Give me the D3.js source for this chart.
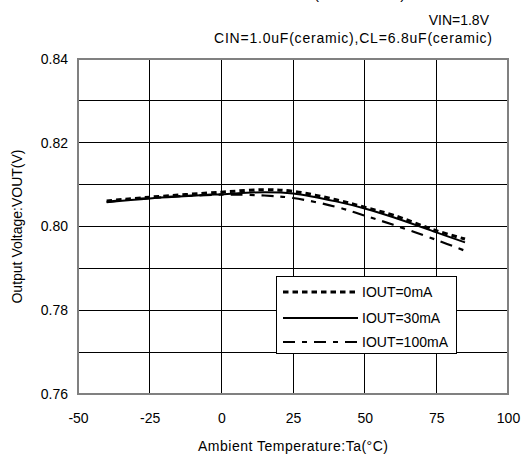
<!DOCTYPE html>
<html>
<head>
<meta charset="utf-8">
<script src="https://cdn.jsdelivr.net/npm/d3@7"></script>
<style>
  body { margin: 0; background: #fff; }
  text { font-family: "Liberation Sans", Arial, sans-serif; fill: #000; }
</style>
</head>
<body>
<div id="container"></div>
<script>
const temps = [-40, -25, 0, 15, 25, 40, 50, 60, 75, 85];
const vout0mA = [0.8061, 0.8070, 0.8082, 0.8088, 0.8084, 0.8064, 0.8046, 0.8027, 0.7990, 0.7970];
const vout30mA = [0.8058, 0.8067, 0.8077, 0.8082, 0.8079, 0.8060, 0.8043, 0.8022, 0.7986, 0.7962];
const vout100mA = [0.8059, 0.8068, 0.8076, 0.8074, 0.8068, 0.8047, 0.8026, 0.8004, 0.7968, 0.7942];
const seriesNames = ["IOUT=0mA", "IOUT=30mA", "IOUT=100mA"];
const xTicks = [-50, -25, 0, 25, 50, 75, 100];
const yGrid = [0.76, 0.77, 0.78, 0.79, 0.80, 0.81, 0.82, 0.83, 0.84];
const yLabels = [0.76, 0.78, 0.80, 0.82, 0.84];

const width = 522, height = 454;
const margin = { top: 59, right: 14, bottom: 60, left: 78 };

const svg = d3.select('#container').append('svg')
  .attr('width', width)
  .attr('height', height);

const x = d3.scaleLinear().domain([-50, 100]).range([margin.left, width - margin.right]);
const y = d3.scaleLinear().domain([0.76, 0.84]).range([height - margin.bottom, margin.top]);

// grid
const grid = svg.append('g');
grid.selectAll('.vg').data(xTicks).enter().append('line')
  .attr('x1', d => x(d)).attr('x2', d => x(d))
  .attr('y1', y(0.76)).attr('y2', y(0.84))
  .attr('stroke', '#000').attr('stroke-width', 1).attr('shape-rendering', 'crispEdges');
grid.selectAll('.hg').data(yGrid).enter().append('line')
  .attr('x1', x(-50)).attr('x2', x(100))
  .attr('y1', d => y(d)).attr('y2', d => y(d))
  .attr('stroke', '#000').attr('stroke-width', 1).attr('shape-rendering', 'crispEdges');
svg.append('rect')
  .attr('x', x(-50)).attr('y', y(0.84))
  .attr('width', x(100) - x(-50)).attr('height', y(0.76) - y(0.84))
  .attr('fill', 'none').attr('stroke', '#808080').attr('stroke-width', 2);

// axes labels
const xAxis = d3.axisBottom(x).tickValues(xTicks).tickSize(0).tickPadding(19).tickFormat(d => String(d));
svg.append('g').attr('transform', `translate(0,${y(0.76)})`).call(xAxis)
  .call(g => g.select('.domain').remove())
  .selectAll('text').attr('font-size', 14).attr('font-family', null);
const yAxis = d3.axisLeft(y).tickValues(yLabels).tickSize(0).tickPadding(10).tickFormat(d3.format('.2f'));
svg.append('g').attr('transform', `translate(${x(-50)},0)`).call(yAxis)
  .call(g => g.select('.domain').remove())
  .selectAll('text').attr('font-size', 14).attr('font-family', null);

svg.append('text')
  .attr('x', (x(-50) + x(100)) / 2).attr('y', 451)
  .attr('text-anchor', 'middle').attr('font-size', 14)
  .attr('textLength', 190).attr('lengthAdjust', 'spacing')
  .text('Ambient Temperature:Ta(°C)');
svg.append('text')
  .attr('transform', `translate(22,${(y(0.76) + y(0.84)) / 2}) rotate(-90)`)
  .attr('text-anchor', 'middle').attr('font-size', 14)
  .text('Output Voltage:VOUT(V)');

// title (cut off at top) and conditions
svg.append('text').attr('x', 314).attr('y', -1).attr('font-size', 15).text('(VOUT=0.8V)');
svg.append('text').attr('x', 489).attr('y', 25).attr('text-anchor', 'end').attr('font-size', 14).text('VIN=1.8V');
svg.append('text').attr('x', 214).attr('y', 43).attr('font-size', 14)
  .attr('textLength', 278).attr('lengthAdjust', 'spacing')
  .text('CIN=1.0uF(ceramic),CL=6.8uF(ceramic)');

// curves
const styles = [
  { dash: '5.5,4', w: 3 },
  { dash: null, w: 2 },
  { dash: '12,7,5,7', w: 2.2 }
];
const series = [vout0mA, vout30mA, vout100mA];
const line = d3.line()
  .x((d, i) => x(temps[i]))
  .y(d => y(d))
  .curve(d3.curveCatmullRom);
series.forEach((s, i) => {
  svg.append('path')
    .attr('d', line(s))
    .attr('fill', 'none')
    .attr('stroke', '#000')
    .attr('stroke-width', styles[i].w)
    .attr('stroke-dasharray', styles[i].dash);
});

// legend
const legend = svg.append('g');
legend.append('rect')
  .attr('x', 276.5).attr('y', 276.5).attr('width', 180).attr('height', 77)
  .attr('fill', '#fff').attr('stroke', '#000').attr('stroke-width', 1);
const rowY = [292, 318, 342];
seriesNames.forEach((name, i) => {
  legend.append('line')
    .attr('x1', 283).attr('x2', 358)
    .attr('y1', rowY[i]).attr('y2', rowY[i])
    .attr('stroke', '#000')
    .attr('stroke-width', styles[i].w)
    .attr('stroke-dasharray', styles[i].dash);
  legend.append('text')
    .attr('x', 362).attr('y', rowY[i] + 5)
    .attr('font-size', 14)
    .text(name);
});
</script>
</body>
</html>
